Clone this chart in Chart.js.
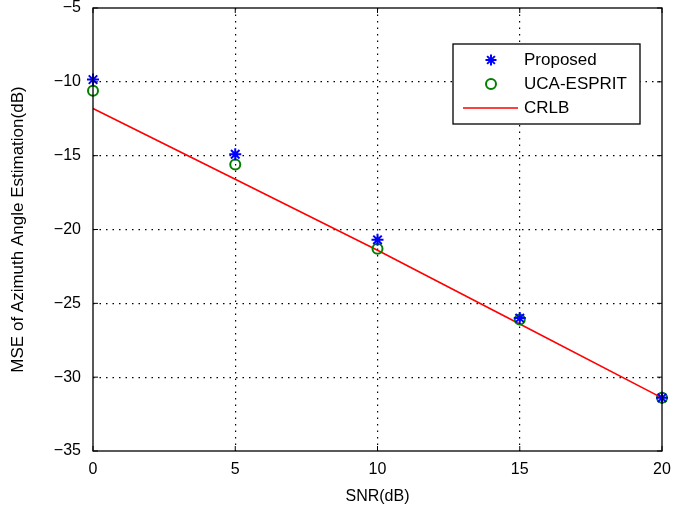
<!DOCTYPE html>
<html lang="en">
<head>
    <meta charset="utf-8">
    <title>MSE vs SNR</title>
    <script src="https://cdn.jsdelivr.net/npm/chart.js"></script>
    <style>
        html, body { margin: 0; padding: 0; background: #fff; }
        #wrap { width: 698px; height: 510px; }
    </style>
</head>
<body>
    <div id="wrap"><canvas id="mseChart" width="698" height="510"></canvas></div>

    <script>
        // data
        const snr = [0, 5, 10, 15, 20];
        const proposed = [-9.85, -14.9, -20.7, -26.0, -31.4];
        const ucaEsprit = [-10.6, -15.6, -21.3, -26.1, -31.4];
        const crlb = [-11.8, -16.6, -21.4, -26.4, -31.4];
        const xTicks = [0, 5, 10, 15, 20];
        const yTicks = [-5, -10, -15, -20, -25, -30, -35];

        const toXY = (ys) => snr.map((x, i) => ({ x: x, y: ys[i] }));

        const fontFam = 'Liberation Sans, Arial, sans-serif';
        const tickFont = { family: fontFam, size: 16 };

        function drawStar(ctx, x, y, r, color) {
            ctx.save();
            ctx.strokeStyle = color;
            ctx.lineWidth = 2;
            ctx.beginPath();
            for (let k = 0; k < 4; k++) {
                const ang = k * Math.PI / 4;
                ctx.moveTo(x - r * Math.cos(ang), y - r * Math.sin(ang));
                ctx.lineTo(x + r * Math.cos(ang), y + r * Math.sin(ang));
            }
            ctx.stroke();
            ctx.restore();
        }

        // frame around plot area + legend box
        const framePlugin = {
            id: 'frame',
            afterDraw(chart) {
                const { ctx, chartArea: a } = chart;
                ctx.save();
                ctx.strokeStyle = '#000';
                ctx.lineWidth = 1.3;
                ctx.strokeRect(a.left, a.top, a.right - a.left, a.bottom - a.top);

                // small inward ticks
                const xs = chart.scales.x, ys = chart.scales.y;
                ctx.lineWidth = 1;
                ctx.beginPath();
                xTicks.forEach(v => {
                    const px = xs.getPixelForValue(v);
                    ctx.moveTo(px, a.bottom); ctx.lineTo(px, a.bottom - 5);
                    ctx.moveTo(px, a.top); ctx.lineTo(px, a.top + 5);
                });
                yTicks.forEach(v => {
                    const py = ys.getPixelForValue(v);
                    ctx.moveTo(a.left, py); ctx.lineTo(a.left + 5, py);
                    ctx.moveTo(a.right, py); ctx.lineTo(a.right - 5, py);
                });
                ctx.stroke();

                // legend
                const lx = 453, ly = 44, lw = 187, lh = 80;
                ctx.fillStyle = '#fff';
                ctx.fillRect(lx, ly, lw, lh);
                ctx.lineWidth = 1.3;
                ctx.strokeRect(lx, ly, lw, lh);

                ctx.font = '17px ' + fontFam;
                ctx.textBaseline = 'middle';
                ctx.textAlign = 'left';
                const rows = [
                    { label: 'Proposed', y: ly + 16 },
                    { label: 'UCA-ESPRIT', y: ly + 40 },
                    { label: 'CRLB', y: ly + 64 }
                ];
                ctx.fillStyle = '#000';
                rows.forEach(r => ctx.fillText(r.label, lx + 71, r.y));

                const mx = lx + 38;
                drawStar(ctx, mx, rows[0].y, 5.5, '#0000ff');
                ctx.strokeStyle = '#008000';
                ctx.lineWidth = 2;
                ctx.beginPath();
                ctx.arc(mx, rows[1].y, 5, 0, Math.PI * 2);
                ctx.stroke();
                ctx.strokeStyle = '#ff0000';
                ctx.lineWidth = 1.5;
                ctx.beginPath();
                ctx.moveTo(lx + 10, rows[2].y);
                ctx.lineTo(lx + 65, rows[2].y);
                ctx.stroke();
                ctx.restore();
            }
        };

        const gridColor = (ctx) => {
            const v = ctx.tick && ctx.tick.value;
            const s = ctx.scale;
            if (v === s.min || v === s.max) return 'rgba(0,0,0,0)';
            return '#000';
        };

        const minus = (v) => String(v).replace('-', '\u2212');

        new Chart(document.getElementById('mseChart'), {
            type: 'scatter',
            data: {
                datasets: [
                    {
                        label: 'CRLB',
                        data: toXY(crlb),
                        showLine: true,
                        borderColor: '#ff0000',
                        borderWidth: 1.6,
                        pointRadius: 0,
                        clip: false,
                        order: 3
                    },
                    {
                        label: 'UCA-ESPRIT',
                        data: toXY(ucaEsprit),
                        showLine: false,
                        pointStyle: 'circle',
                        pointRadius: 5,
                        borderColor: '#008000',
                        backgroundColor: 'rgba(0,0,0,0)',
                        borderWidth: 2,
                        clip: false,
                        order: 2
                    },
                    {
                        label: 'Proposed',
                        data: toXY(proposed),
                        showLine: false,
                        pointStyle: 'star',
                        pointRadius: 6,
                        borderColor: '#0000ff',
                        backgroundColor: '#0000ff',
                        borderWidth: 2,
                        clip: false,
                        order: 1
                    }
                ]
            },
            options: {
                responsive: false,
                animation: false,
                layout: { padding: { left: 0, right: 36, top: 8, bottom: 0 } },
                plugins: {
                    legend: { display: false },
                    tooltip: { enabled: false }
                },
                scales: {
                    x: {
                        type: 'linear',
                        min: 0,
                        max: 20,
                        afterBuildTicks: (s) => { s.ticks = xTicks.map(v => ({ value: v })); },
                        afterFit: (s) => { s.height = 59; s.paddingLeft = 0; s.paddingRight = 0; },
                        ticks: { font: tickFont, color: '#000', padding: 9 },
                        grid: { color: gridColor, lineWidth: 1.2, drawTicks: false },
                        border: { display: false, dash: [1.5, 5] },
                        title: {
                            display: true,
                            text: 'SNR(dB)',
                            font: tickFont,
                            color: '#000',
                            padding: { top: 3 }
                        }
                    },
                    y: {
                        type: 'linear',
                        min: -35,
                        max: -5,
                        afterBuildTicks: (s) => { s.ticks = yTicks.map(v => ({ value: v })); },
                        afterFit: (s) => { s.width = 93; s.paddingTop = 0; s.paddingBottom = 0; },
                        ticks: { font: tickFont, color: '#000', padding: 12, callback: minus },
                        grid: { color: gridColor, lineWidth: 1.2, drawTicks: false },
                        border: { display: false, dash: [1.5, 5] },
                        title: {
                            display: true,
                            text: 'MSE of Azimuth Angle Estimation(dB)',
                            font: { family: fontFam, size: 17 },
                            color: '#000',
                            padding: { top: 8, bottom: 6 }
                        }
                    }
                }
            },
            plugins: [framePlugin]
        });
    </script>
</body>
</html>
